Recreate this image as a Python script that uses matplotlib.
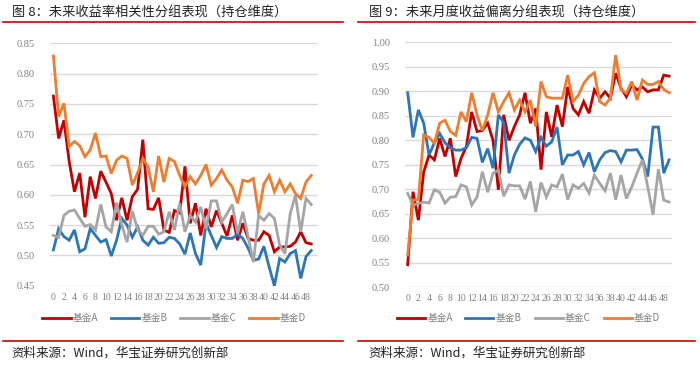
import matplotlib
matplotlib.use('Agg')
import matplotlib.pyplot as plt
import numpy as np
from matplotlib.lines import Line2D

plt.rcParams['font.family'] = ['Noto Sans CJK SC', 'DejaVu Sans']

####################################################################################
# 数据
x_idx = np.arange(50)
x_ticks = list(range(0, 50, 2))
series_names = ['基金A', '基金B', '基金C', '基金D']

# 图8：未来收益率相关性
corr_a = [0.763, 0.693, 0.723, 0.655, 0.605, 0.636, 0.563, 0.630, 0.594, 0.639,
          0.621, 0.602, 0.558, 0.595, 0.558, 0.597, 0.609, 0.691, 0.577, 0.576,
          0.595, 0.542, 0.538, 0.574, 0.570, 0.647, 0.553, 0.586, 0.533, 0.577,
          0.547, 0.574, 0.553, 0.532, 0.566, 0.525, 0.553, 0.528, 0.525, 0.525,
          0.539, 0.533, 0.506, 0.514, 0.514, 0.515, 0.522, 0.539, 0.521, 0.519]
corr_b = [0.509, 0.544, 0.531, 0.525, 0.542, 0.506, 0.511, 0.544, 0.533, 0.522,
          0.526, 0.499, 0.525, 0.561, 0.550, 0.530, 0.547, 0.525, 0.517, 0.530,
          0.520, 0.521, 0.530, 0.528, 0.519, 0.502, 0.537, 0.503, 0.484, 0.553,
          0.533, 0.513, 0.531, 0.528, 0.528, 0.535, 0.528, 0.512, 0.492, 0.494,
          0.515, 0.481, 0.450, 0.495, 0.489, 0.503, 0.508, 0.462, 0.498, 0.508]
corr_c = [0.533, 0.530, 0.566, 0.573, 0.575, 0.561, 0.548, 0.551, 0.542, 0.584,
          0.547, 0.539, 0.587, 0.550, 0.522, 0.573, 0.543, 0.533, 0.548, 0.548,
          0.535, 0.539, 0.572, 0.542, 0.586, 0.539, 0.566, 0.555, 0.580, 0.544,
          0.590, 0.590, 0.555, 0.569, 0.584, 0.536, 0.572, 0.531, 0.489, 0.566,
          0.558, 0.569, 0.561, 0.517, 0.503, 0.569, 0.599, 0.539, 0.594, 0.584]
corr_d = [0.829, 0.729, 0.751, 0.680, 0.688, 0.681, 0.663, 0.674, 0.702, 0.663,
          0.664, 0.635, 0.657, 0.664, 0.660, 0.616, 0.636, 0.660, 0.646, 0.605,
          0.664, 0.621, 0.660, 0.655, 0.632, 0.613, 0.630, 0.618, 0.632, 0.650,
          0.616, 0.627, 0.641, 0.624, 0.613, 0.586, 0.624, 0.622, 0.627, 0.569,
          0.618, 0.632, 0.605, 0.624, 0.605, 0.618, 0.602, 0.594, 0.621, 0.632]

# 图9：未来月度收益偏离
dev_a = [0.546, 0.695, 0.637, 0.735, 0.770, 0.760, 0.804, 0.767, 0.804, 0.726,
         0.763, 0.787, 0.858, 0.818, 0.820, 0.835, 0.800, 0.699, 0.852, 0.800,
         0.828, 0.852, 0.897, 0.835, 0.865, 0.740, 0.858, 0.807, 0.872, 0.828,
         0.909, 0.865, 0.852, 0.879, 0.855, 0.903, 0.886, 0.899, 0.886, 0.937,
         0.906, 0.889, 0.913, 0.903, 0.909, 0.899, 0.903, 0.903, 0.933, 0.931]
dev_b = [0.897, 0.806, 0.862, 0.835, 0.770, 0.795, 0.814, 0.795, 0.785, 0.780,
         0.780, 0.785, 0.806, 0.804, 0.755, 0.783, 0.743, 0.852, 0.836, 0.733,
         0.770, 0.792, 0.805, 0.800, 0.777, 0.806, 0.788, 0.797, 0.827, 0.750,
         0.770, 0.770, 0.777, 0.750, 0.775, 0.736, 0.760, 0.775, 0.779, 0.777,
         0.756, 0.780, 0.780, 0.781, 0.762, 0.726, 0.827, 0.827, 0.733, 0.760]
dev_c = [0.692, 0.668, 0.671, 0.674, 0.672, 0.699, 0.694, 0.672, 0.684, 0.685,
         0.709, 0.705, 0.668, 0.684, 0.736, 0.694, 0.733, 0.739, 0.686, 0.709,
         0.707, 0.707, 0.680, 0.716, 0.654, 0.714, 0.684, 0.709, 0.705, 0.731,
         0.679, 0.709, 0.702, 0.712, 0.692, 0.729, 0.712, 0.697, 0.733, 0.679,
         0.729, 0.681, 0.705, 0.733, 0.760, 0.705, 0.648, 0.741, 0.678, 0.674]
dev_d = [0.566, 0.678, 0.679, 0.811, 0.806, 0.794, 0.835, 0.841, 0.818, 0.810,
         0.858, 0.838, 0.897, 0.852, 0.820, 0.852, 0.897, 0.858, 0.879, 0.897,
         0.862, 0.882, 0.858, 0.882, 0.828, 0.920, 0.889, 0.886, 0.886, 0.886,
         0.933, 0.879, 0.892, 0.916, 0.930, 0.938, 0.879, 0.872, 0.886, 0.974,
         0.903, 0.896, 0.920, 0.882, 0.923, 0.914, 0.914, 0.920, 0.904, 0.897]

####################################################################################
# 样式
colors = ['#C00000', '#2E75B6', '#A5A5A5', '#ED7D31']
grid_color = '#D9D9D9'
tick_color = '#808080'
rule_color = '#D00000'
lw = 2.0

fig = plt.figure(figsize=(7.0, 3.68), dpi=100)


def draw_panel(rect, data, ylim, yticks, xlim):
    ax = fig.add_axes(rect)
    for vals, c, name in zip(data, colors, series_names):
        ax.plot(x_idx, vals, color=c, lw=lw, label=name, solid_joinstyle='miter')
    ax.set_ylim(*ylim)
    ax.set_xlim(*xlim)
    ax.set_yticks(yticks)
    ax.set_yticklabels([f'{v:.2f}' for v in yticks], family='Liberation Serif', fontsize=7.5, color=tick_color)
    ax.set_xticks(x_ticks)
    ax.set_xticklabels([str(v) for v in x_ticks], family='Liberation Serif', fontsize=7, color=tick_color)
    ax.tick_params(axis='both', length=0)
    ax.tick_params(axis='y', pad=11)
    ax.tick_params(axis='x', pad=5)
    for sp in ax.spines.values():
        sp.set_visible(False)
    ax.grid(axis='y', color=grid_color, lw=1.0)
    ax.set_axisbelow(True)
    return ax


ax1 = draw_panel([0.0714, 0.2236, 0.383, 0.6587], [corr_a, corr_b, corr_c, corr_d],
                 (0.45, 0.85), np.round(np.arange(0.45, 0.851, 0.05), 2), (-0.65, 50.3))
ax2 = draw_panel([0.5786, 0.2193, 0.381, 0.6657], [dev_a, dev_b, dev_c, dev_d],
                 (0.50, 1.00), np.round(np.arange(0.50, 1.001, 0.05), 2), (-0.5, 49.5))

for ax, cx in [(ax1, 0.249), (ax2, 0.755)]:
    ax.legend(loc='center', bbox_to_anchor=(cx, 0.136), bbox_transform=fig.transFigure,
              ncol=4, frameon=False, handlelength=2.9, handletextpad=0.25, columnspacing=1.3,
              prop={'family': ['Noto Sans CJK SC', 'DejaVu Sans'], 'size': 7}, labelcolor=tick_color)

# 标题与来源
titles = ['图 8：未来收益率相关性分组表现（持仓维度）', '图 9：未来月度收益偏离分组表现（持仓维度）']
for tx, (x0, x1), t in [(0.017, (0.004, 0.490), titles[0]), (0.527, (0.511, 0.993), titles[1])]:
    fig.text(tx, 0.965, t, fontsize=9.5, va='center', ha='left', color='#222222')
    fig.add_artist(Line2D([x0, x1], [0.940, 0.940], transform=fig.transFigure, color=rule_color, lw=1.2))
    fig.add_artist(Line2D([x0, x1], [0.0734, 0.0734], transform=fig.transFigure, color=rule_color, lw=1.2))
    fig.text(tx, 0.040, '资料来源：Wind，华宝证券研究创新部', fontsize=9, va='center', ha='left', color='#222222')

fig.savefig('out.png', dpi=100)
